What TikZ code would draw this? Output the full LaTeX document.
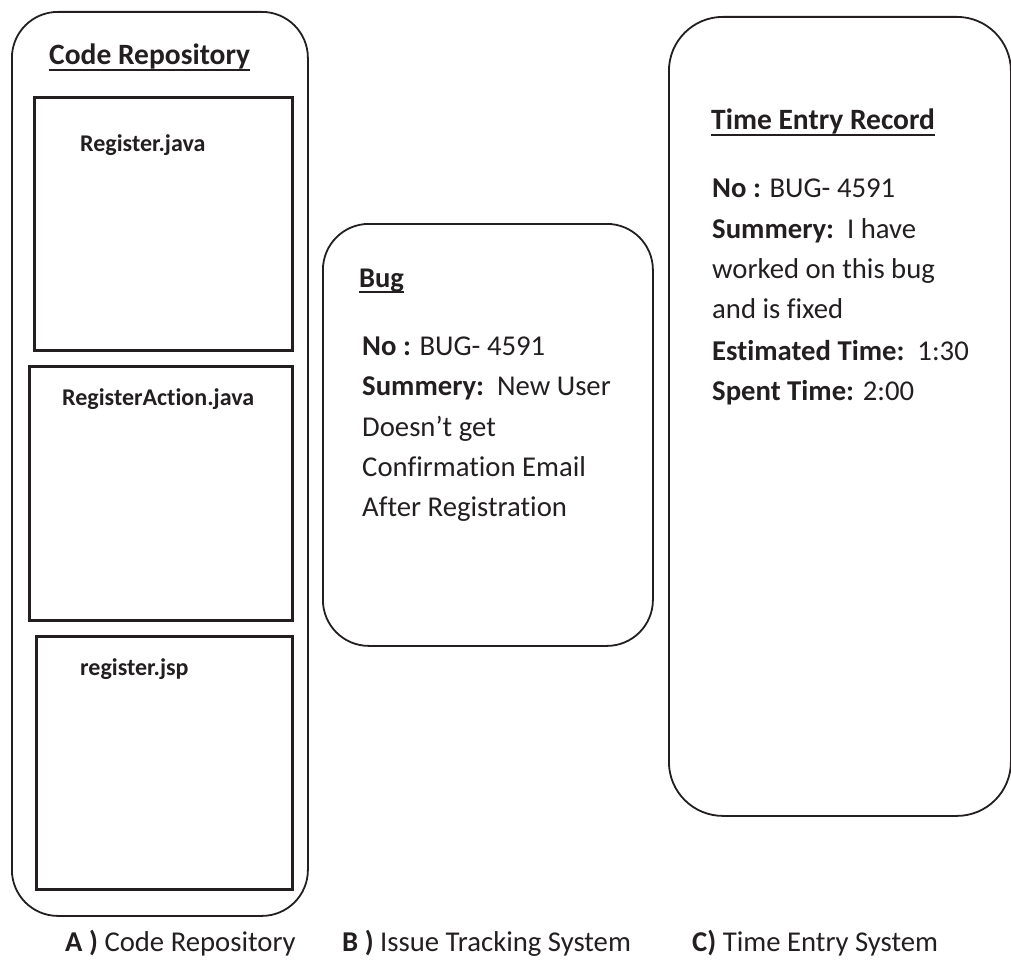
\documentclass[tikz,border=0pt]{standalone}
\usepackage{fontspec}
\setmainfont{Carlito}[RawFeature={-liga;-clig}]
\definecolor{ink}{RGB}{35,31,32}
\begin{document}
\begin{tikzpicture}[x=1pt,y=-1pt,
  roundbox/.style={draw=ink,line width=1.8pt,rounded corners=#1,inner sep=0pt,anchor=north west},
  filebox/.style={draw=ink,line width=2.6pt,inner sep=0pt,anchor=north west},
  txt/.style={anchor=base west,inner sep=0pt,text=ink,font=\fontsize{28.7}{34}\selectfont},
  head/.style={anchor=base west,inner sep=0pt,text=ink,font=\fontsize{29.5}{34}\selectfont\bfseries},
  ftxt/.style={anchor=base west,inner sep=0pt,text=ink,font=\fontsize{24}{29}\selectfont\bfseries},
  uline/.style={draw=ink,line width=1.8pt}]
\useasboundingbox (0,0) rectangle (1011,960);
% Code repository
\node[roundbox=46pt,minimum width=296pt,minimum height=904pt] (repo) at (11,11) {};
\node[head] (repoh) at (49,65) {Code Repository};
\draw[uline] ([yshift=-5pt]repoh.base west) -- ([yshift=-5pt]repoh.base east);
\node[filebox,minimum width=258pt,minimum height=253pt] (f1) at (33,96) {};
\node[filebox,minimum width=263pt,minimum height=254pt] (f2) at (28,365) {};
\node[filebox,minimum width=256pt,minimum height=253pt] (f3) at (35,635) {};
\node[ftxt] (f1t) at (80,152) {Register.java};
\node[ftxt] (f2t) at (62,405) {RegisterAction.java};
\node[ftxt] (f3t) at (80,675) {register.jsp};
% Bug
\node[roundbox=46pt,minimum width=330pt,minimum height=422pt] (bug) at (322,223) {};
\node[head,font=\fontsize{28.5}{34}\selectfont\bfseries] (bugh) at (359,287) {Bug};
\draw[uline] ([yshift=-5pt]bugh.base west) -- ([yshift=-5pt]bugh.base east);
\node[txt] (b1) at (362,355) {\textbf{No :} BUG- 4591};
\node[txt] (b2) at (362,395) {\textbf{Summery:}\ \ New User};
\node[txt] (b3) at (362,436) {Doesn’t get};
\node[txt] (b4) at (362,476) {Confirmation Email};
\node[txt] (b5) at (362,516) {After Registration};
% Time entry
\begin{scope}
\clip (0,0) rectangle (1011,960);
\node[roundbox=54pt,minimum width=342pt,minimum height=799pt] (time) at (668,16) {};
\end{scope}
\node[head] (timeh) at (711,130) {Time Entry Record};
\draw[uline] ([yshift=-5pt]timeh.base west) -- ([yshift=-5pt]timeh.base east);
\node[txt] (t1) at (712,197) {\textbf{No :} BUG- 4591};
\node[txt] (t2) at (712,238) {\textbf{Summery:}\ \ I have};
\node[txt] (t3) at (712,278) {worked on this bug};
\node[txt] (t4) at (712,318) {and is fixed};
\node[txt] (t5) at (712,360) {\textbf{Estimated Time:}\ \ 1:30};
\node[txt] (t6) at (712,400) {\textbf{Spent Time:} 2:00};
% captions
\node[txt] (ca) at (65,951) {\textbf{A )} Code Repository};
\node[txt] (cb) at (342,951) {\textbf{B )} Issue Tracking System};
\node[txt] (cc) at (692,951) {\textbf{C)} Time Entry System};
\end{tikzpicture}
\end{document}
